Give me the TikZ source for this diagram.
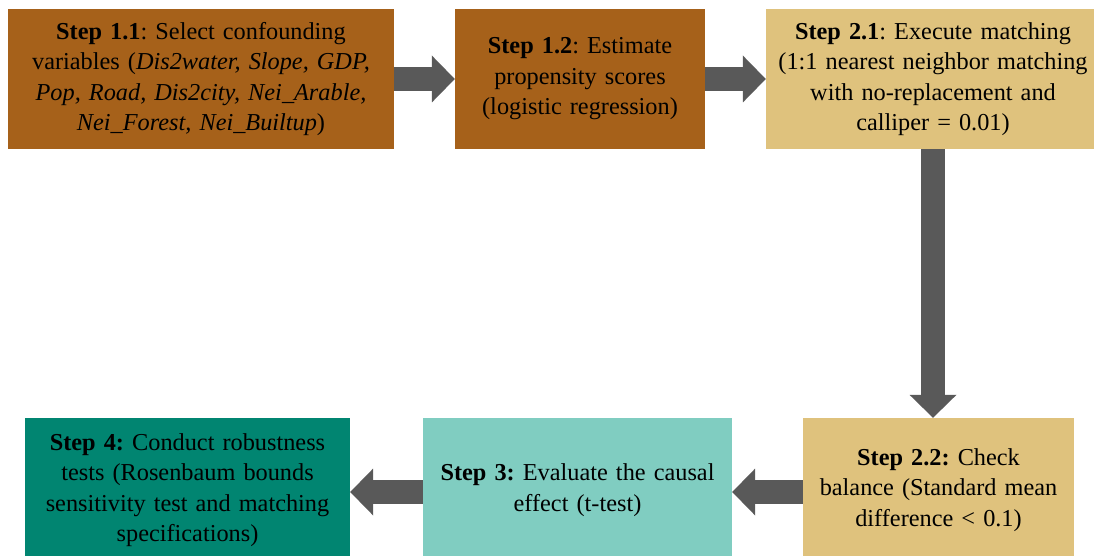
\documentclass[tikz,border=0pt]{standalone}
\usepackage{fontspec}
\setmainfont{LiberationSerif}[Extension=.ttf, UprightFont=*-Regular, BoldFont=*-Bold, ItalicFont=*-Italic, BoldItalicFont=*-BoldItalic]
\usetikzlibrary{arrows.meta}
\frenchspacing
\definecolor{brownbox}{HTML}{A6611A}
\definecolor{tanbox}{HTML}{DFC27D}
\definecolor{lightteal}{HTML}{80CDC1}
\definecolor{darkteal}{HTML}{018571}
\definecolor{arrowgray}{HTML}{595959}
\tikzset{
  stepbox/.style={fill=#1, draw=none, inner sep=0pt, align=center, text=black,
    font=\fontsize{24.3}{30.5}\selectfont},
  fatarrow/.style={draw=arrowgray, line width=23.5pt,
    -{Triangle[length=23pt, width=47pt, line width=0pt, color=arrowgray]}}
}
\begin{document}
\begin{tikzpicture}[x=1pt,y=-1pt]
\useasboundingbox (0,0) rectangle (1094,556);
\clip (0,0) rectangle (1094,556);
% top row
\node[stepbox=brownbox, minimum width=386pt, minimum height=140pt, text width=380pt] (b11) at (201,79)
  {\textbf{Step 1.1}: Select confounding\\ variables (\textit{Dis2water, Slope, GDP,}\\ \textit{Pop, Road, Dis2city, Nei\_Arable,}\\ \textit{Nei\_Forest, Nei\_Builtup})};
\node[stepbox=brownbox, minimum width=250pt, minimum height=140pt, text width=244pt] (b12) at (580,79)
  {\textbf{Step 1.2}: Estimate\\ propensity scores\\ (logistic regression)};
\node[stepbox=tanbox, minimum width=334pt, minimum height=140pt, text width=328pt] (b21) at (933,79)
  {\textbf{Step 2.1}: Execute matching\\ (1:1 nearest neighbor matching\\ with no-replacement and\\ calliper = 0.01)};
% bottom row
\node[stepbox=tanbox, minimum width=271pt, minimum height=144pt, text width=265pt] (b22) at (938.5,490)
  {\textbf{Step 2.2:} Check\\ balance (Standard mean\\ difference < 0.1)};
\node[stepbox=lightteal, minimum width=309pt, minimum height=144pt, text width=303pt] (b3) at (577.5,490)
  {\textbf{Step 3:} Evaluate the causal\\ effect (t-test)};
\node[stepbox=darkteal, minimum width=325pt, minimum height=144pt, text width=319pt] (b4) at (187.5,490)
  {\textbf{Step 4:} Conduct robustness\\ tests (Rosenbaum bounds\\ sensitivity test and matching\\ specifications)};
% connectors
\draw[fatarrow] (b11.east) -- (b12.west);
\draw[fatarrow] (b12.east) -- (b21.west);
\draw[fatarrow] (b21.south) -- (b21.south |- b22.north);
\draw[fatarrow] ([yshift=-2pt]b22.west) -- ([yshift=-2pt]b3.east);
\draw[fatarrow] ([yshift=-2pt]b3.west) -- ([yshift=-2pt]b4.east);
\end{tikzpicture}
\end{document}
